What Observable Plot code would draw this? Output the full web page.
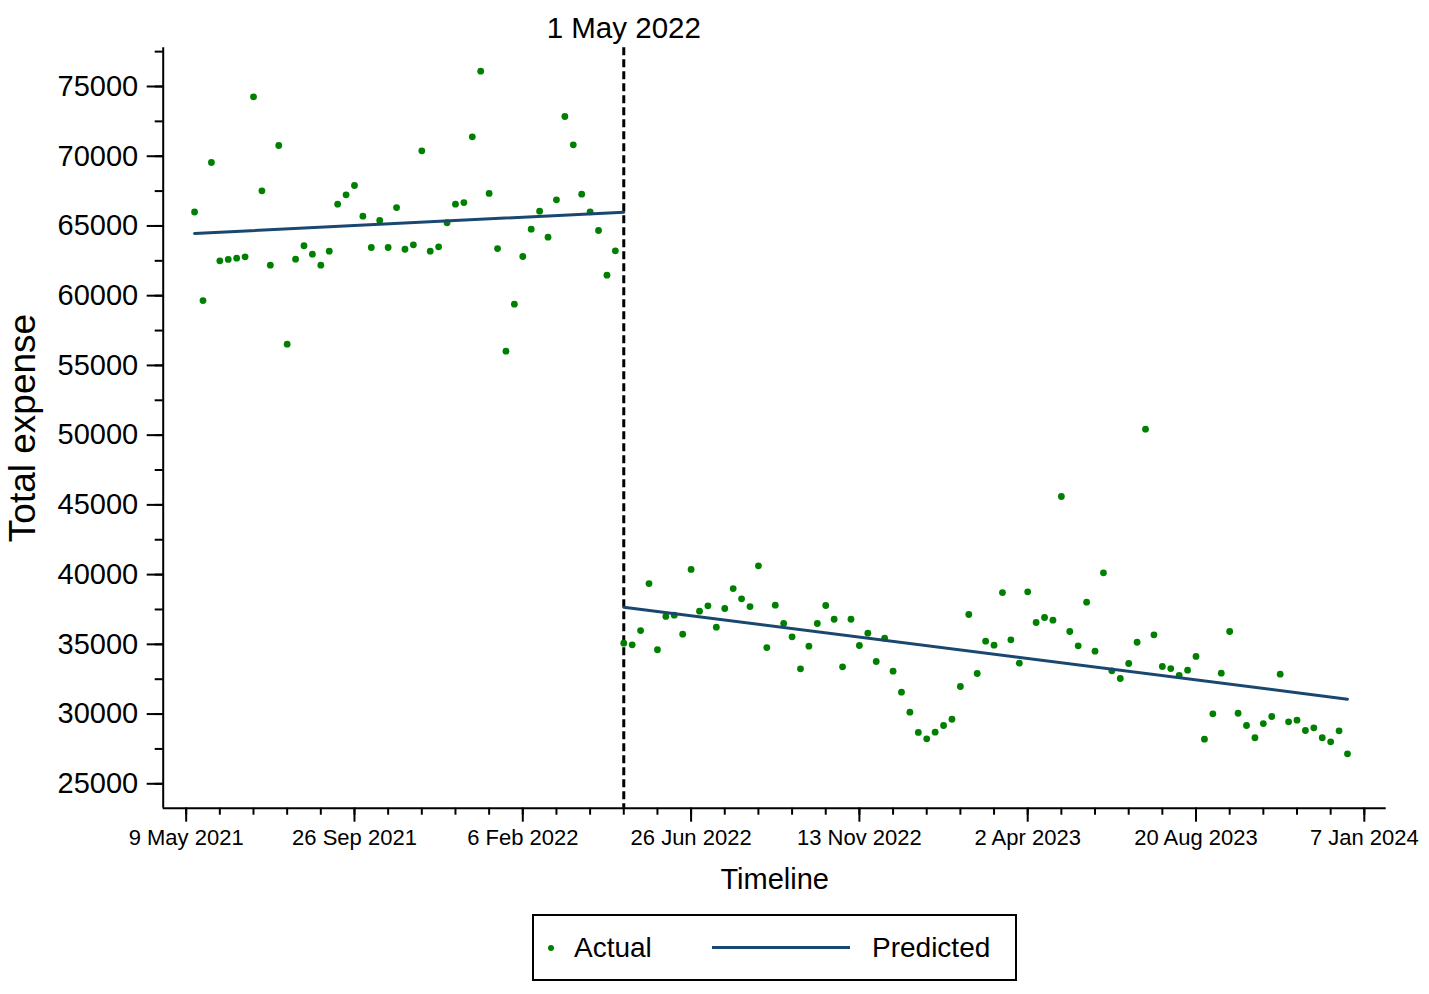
<!DOCTYPE html>
<html>
<head>
<meta charset="utf-8">
<script src="https://cdn.jsdelivr.net/npm/d3@7"></script>
<script src="https://cdn.jsdelivr.net/npm/@observablehq/plot@0.6"></script>
<style>
  html, body { margin: 0; padding: 0; background: #fff; }
  #wrap { position: relative; width: 1429px; height: 994px; font-family: "Liberation Sans", Arial, Helvetica, sans-serif; color: #000; }
  #chart { position: absolute; left: 0; top: 0; }
  #legend { position: absolute; left: 532px; top: 914px; width: 485px; height: 67px; box-sizing: border-box; border: 2px solid #000; background: #fff; }
  #legend .dot { position: absolute; left: 14px; top: 29px; width: 6px; height: 6px; border-radius: 50%; background: #008000; }
  #legend .lab { position: absolute; top: 0; height: 63px; line-height: 63px; font-size: 28px; }
  #legend .ln { position: absolute; left: 178px; top: 30px; width: 138px; height: 3px; background: #1a476f; }
</style>
</head>
<body>
<div id="wrap">
  <div id="chart"></div>
  <div id="legend">
    <div class="dot"></div><div class="lab" style="left:40px">Actual</div>
    <div class="ln"></div><div class="lab" style="left:338px">Predicted</div>
  </div>
</div>
<script>
// Weekly index: week 0 = "9 May 2021" tick; first observation at week 1
const firstWeekPre = 1;
const actualPre = [66000, 59650, 69550, 62500, 62600, 62690, 62790, 74260, 67520, 62190,
  70770, 56520, 62620, 63580, 62975, 62190, 63190, 66560, 67235, 67900,
  65700, 63455, 65390, 63455, 66320, 63330, 63650, 70390, 63190, 63505,
  65230, 66560, 66680, 71390, 76100, 67330, 63380, 56020, 59390, 62810,
  64770, 66060, 64195, 66875, 72850, 70820, 67280, 66015, 64675, 61470, 63220];
const firstWeekPost = 52;
const actualPost = [35080, 34965, 35990, 39360, 34610, 37000, 37090, 35730, 40370, 37380,
  37760, 36230, 37570, 39000, 38265, 37710, 40630, 34770, 37805, 36495,
  35540, 33245, 34865, 36495, 37785, 36800, 33390, 36800, 34915, 35800,
  33770, 35440, 33075, 31570, 30135, 28680, 28225, 28700, 29180, 29630,
  31975, 37140, 32910, 35225, 34940, 38715, 35325, 33650, 38765, 36565,
  36925, 36730, 45600, 35920, 34895, 38020, 34510, 40130, 33100, 32550,
  33625, 35150, 50430, 35685, 33410, 33265, 32765, 33145, 34130, 28200,
  30020, 32930, 35920, 30060, 29180, 28300, 29320, 29825, 32860, 29445,
  29560, 28820, 29015, 28300, 28010, 28800, 27150];
// Predicted (fitted) lines, read at their ends
const predPreWeeks = [1, 52];
const predPreValues = [64460, 65990];
const predPostWeeks = [52, 138];
const predPostValues = [37660, 31070];
// Axis ticks
const xTickWeeks = [0, 20, 40, 60, 80, 100, 120, 140];
const xTickLabels = ["9 May 2021", "26 Sep 2021", "6 Feb 2022", "26 Jun 2022", "13 Nov 2022", "2 Apr 2023", "20 Aug 2023", "7 Jan 2024"];
const yTicks = [25000, 30000, 35000, 40000, 45000, 50000, 55000, 60000, 65000, 70000, 75000];
const cutoffWeek = 52;
const cutoffLabel = "1 May 2022";

const actual = [
  ...actualPre.map((v, i) => ({week: firstWeekPre + i, value: v})),
  ...actualPost.map((v, i) => ({week: firstWeekPost + i, value: v}))
];
const predPre = predPreWeeks.map((w, i) => ({week: w, value: predPreValues[i]}));
const predPost = predPostWeeks.map((w, i) => ({week: w, value: predPostValues[i]}));

const xDomain = [-2.73, 142.6];
const yDomain = [23250, 77775];
const xMinor = d3.range(0, 141, 4);
const yMinor = d3.range(25000, 77501, 2500);

const chart = Plot.plot({
  width: 1429,
  height: 900,
  marginLeft: 162.7,
  marginRight: 43.3,
  marginTop: 47.3,
  marginBottom: 92.3,
  style: {fontFamily: "'Liberation Sans', Arial, Helvetica, sans-serif", color: "#000", background: "#fff", overflow: "visible"},
  x: {type: "linear", domain: xDomain},
  y: {type: "linear", domain: yDomain},
  marks: [
    Plot.axisX(xMinor, {tickSize: 7, strokeWidth: 2, text: null, label: null}),
    Plot.axisX(xTickWeeks, {tickSize: 14, tickPadding: 7, strokeWidth: 2, fontSize: 22, label: null,
      tickFormat: (d) => xTickLabels[xTickWeeks.indexOf(d)]}),
    Plot.axisY(yMinor, {tickSize: 8, strokeWidth: 2, text: null, label: null}),
    Plot.axisY(yTicks, {tickSize: 16, tickPadding: 9, strokeWidth: 2, fontSize: 29, label: null,
      tickFormat: (d) => String(d)}),
    Plot.ruleX([xDomain[0]], {stroke: "#000", strokeWidth: 2}),
    Plot.ruleY([yDomain[0]], {stroke: "#000", strokeWidth: 2}),
    Plot.ruleX([cutoffWeek], {stroke: "#000", strokeWidth: 3, strokeDasharray: "8,4"}),
    Plot.text([cutoffLabel], {x: [cutoffWeek], frameAnchor: "top", lineAnchor: "middle", dy: -19, fontSize: 29.5, fill: "#000"}),
    Plot.text(["Timeline"], {frameAnchor: "bottom", lineAnchor: "middle", dy: 72, fontSize: 29, fill: "#000"}),
    Plot.text(["Total expense"], {frameAnchor: "left", textAnchor: "middle", lineAnchor: "middle", dx: -140, rotate: -90, fontSize: 37, fill: "#000"}),
    Plot.dot(actual, {x: "week", y: "value", r: 3.4, fill: "#008000", stroke: "none"}),
    Plot.line(predPre, {x: "week", y: "value", stroke: "#1a476f", strokeWidth: 3}),
    Plot.line(predPost, {x: "week", y: "value", stroke: "#1a476f", strokeWidth: 3})
  ]
});
document.getElementById("chart").appendChild(chart);
</script>
</body>
</html>
